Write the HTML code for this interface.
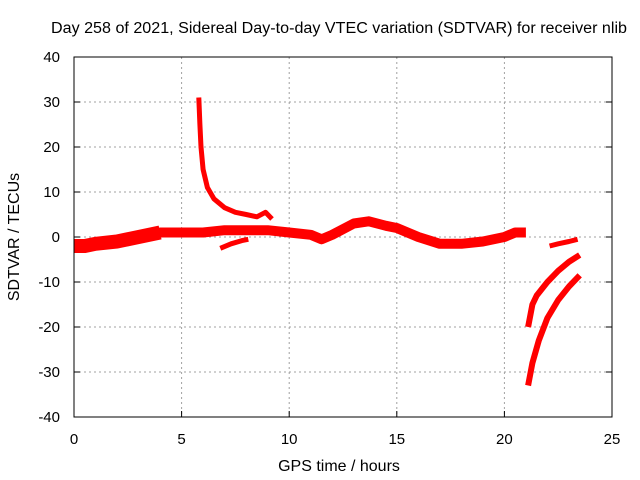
<!DOCTYPE html>
<html><head><meta charset="utf-8"><style>
body{margin:0;background:#fff;}
svg{display:block;font-family:"Liberation Sans",sans-serif;}
</style></head><body>
<svg id="chart" width="640" height="480">
<text x="339" y="33" font-size="15.5" text-anchor="middle" fill="#000" textLength="576" lengthAdjust="spacingAndGlyphs">Day 258 of 2021, Sidereal Day-to-day VTEC variation (SDTVAR) for receiver nlib</text>
<g id="grid"></g>
<g id="series"></g>
<rect x="74" y="57" width="538" height="360" fill="none" stroke="#000" stroke-width="1"/>
<g id="axes"></g>
<text x="339" y="471" font-size="16" text-anchor="middle">GPS time / hours</text>
<text transform="translate(19,237) rotate(-90)" font-size="16" text-anchor="middle">SDTVAR / TECUs</text>
</svg>
<script>
const xTicks=[0,5,10,15,20,25];
const yTicks=[-40,-30,-20,-10,0,10,20,30,40];
const mainX=[0,0.5,1,2,3,4,5,6,7,8,9,10,11,11.5,12,13,13.7,14.5,15,16,17,18,19,20,20.5,21];
const mainY=[-2,-2,-1.5,-1,0,1,1,1,1.5,1.5,1.5,1,0.5,-0.5,0.5,3,3.5,2.5,2,0,-1.5,-1.5,-1,0,1,1];
const lowX=[6.8,7.3,7.8,8.1];
const lowY=[-2.5,-1.5,-0.8,-0.5];
const spikeX=[5.8,5.85,5.9,6.0,6.2,6.5,7,7.5,8,8.5,8.9,9.2];
const spikeY=[31,25,20,15,11,8.5,6.5,5.5,5,4.5,5.5,4];
const tailX=[22.1,22.5,23,23.4];
const tailY=[-2,-1.5,-1,-0.5];
const upX=[21.1,21.3,21.5,22,22.5,23,23.5];
const upY=[-20,-15,-13,-10,-7.5,-5.5,-4];
const dnX=[21.1,21.3,21.6,22,22.5,23,23.5];
const dnY=[-33,-28,-23,-18,-14,-11,-8.5];
const NS="http://www.w3.org/2000/svg";
const X0=74,X1=612,Y0=417,Y1=57;
const sx=v=>X0+(v-0)/(25-0)*(X1-X0);
const sy=v=>Y0-(v+40)/80*(Y0-Y1);
const grid=document.getElementById('grid'),axes=document.getElementById('axes'),ser=document.getElementById('series');
function mk(t,a,p){const e=document.createElementNS(NS,t);for(const k in a)e.setAttribute(k,a[k]);p.appendChild(e);return e;}
xTicks.forEach(t=>{const x=sx(t);
 if(t>0&&t<25){const g=mk('line',{x1:x,x2:x,y1:Y1,y2:Y0,stroke:'#a0a0a0','stroke-dasharray':'2,3'},grid);
 
 }
 const l=mk('line',{x1:x,x2:x,y1:Y0,y2:Y0-6,stroke:'#000'},axes);
 
 
 const tx=mk('text',{x:x,y:Y0+27,'font-size':15,'text-anchor':'middle'},axes);tx.textContent=t;
 
 });
yTicks.forEach(t=>{const y=sy(t);
 if(t>-40&&t<40){const g=mk('line',{x1:X0,x2:X1,y1:y,y2:y,stroke:'#a0a0a0','stroke-dasharray':'2,3'},grid);
 
 }
 const l=mk('line',{x1:X0,x2:X0+6,y1:y,y2:y,stroke:'#000'},axes);
 
 
 const l2=mk('line',{x1:X1,x2:X1-6,y1:y,y2:y,stroke:'#000'},axes);
 
 
 const tx=mk('text',{x:X0-14,y:y+5,'font-size':15,'text-anchor':'end'},axes);tx.textContent=t;
 
 });
function line(xs,ys,w,name){const pts=xs.map((x,i)=>sx(x).toFixed(1)+','+sy(ys[i]).toFixed(1)).join(' ');
 const p=mk('polyline',{points:pts,fill:'none',stroke:'#ff0000','stroke-width':w,'stroke-linejoin':'round','stroke-linecap':'butt'},ser);
 
 }
line(mainX,mainY,10,'main-band');
line(mainX.slice(0,6),mainY.slice(0,6),14,'main-band-early');
line(lowX,lowY,5,'lower-branch');
line(spikeX,spikeY,5,'spike-branch');
line(tailX,tailY,5,'late-branch');
line(upX,upY,6,'upper-recovery-curve');
line(dnX,dnY,6,'lower-recovery-curve');
</script>
</body></html>
